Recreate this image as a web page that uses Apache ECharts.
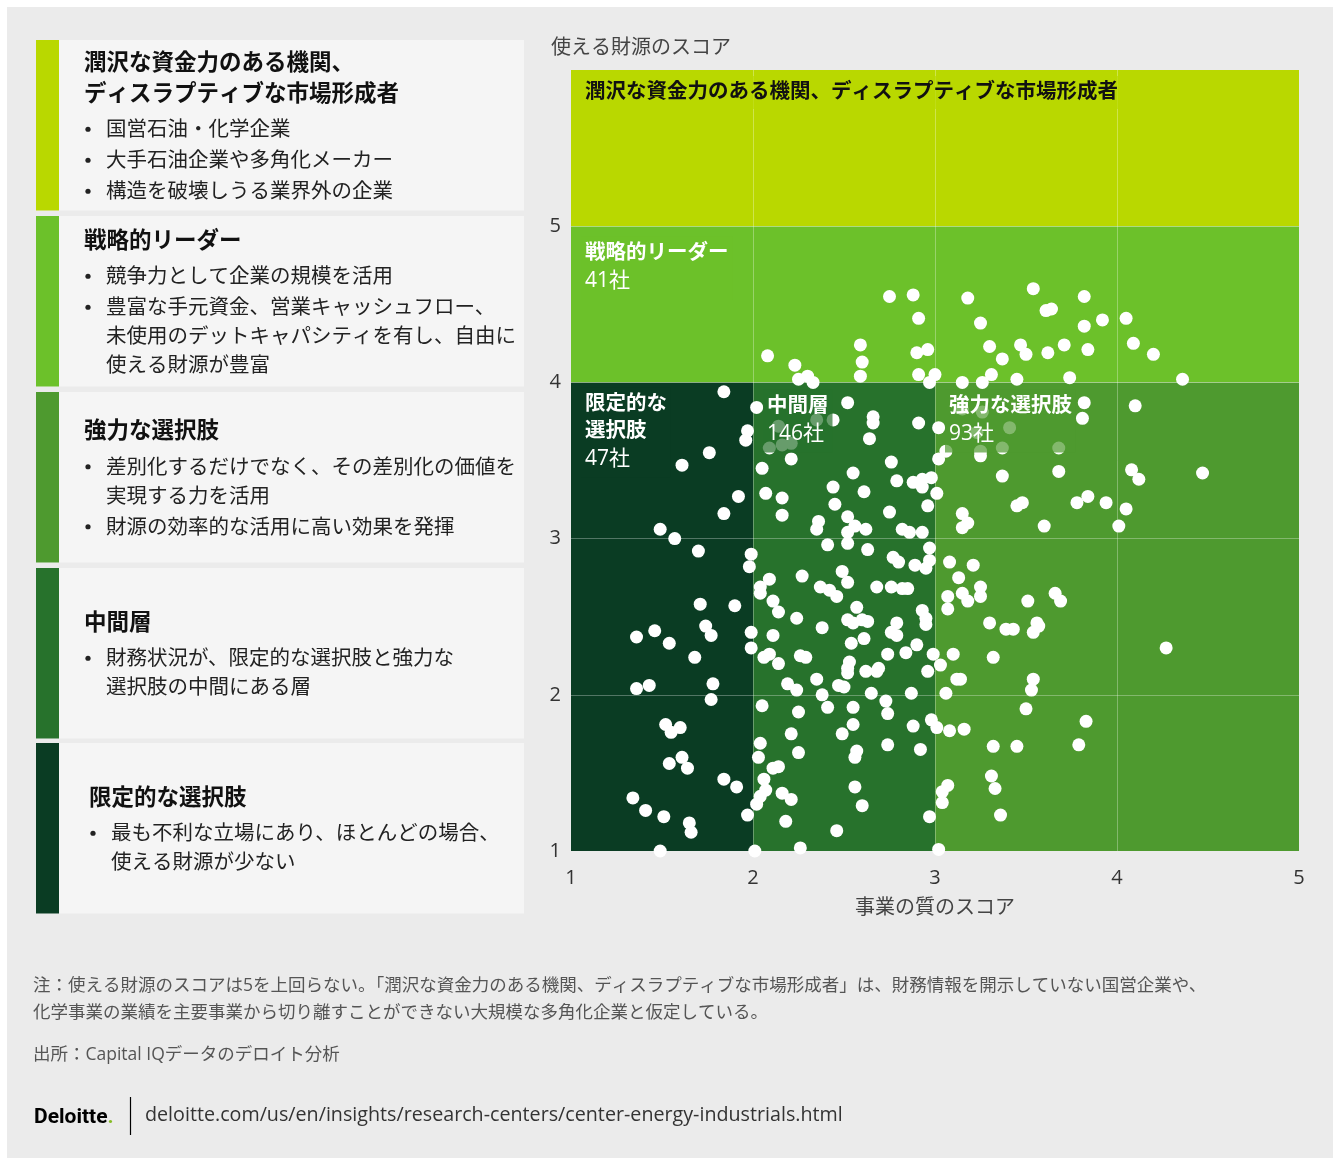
<!DOCTYPE html>
<html>
<head>
<meta charset="utf-8">
<script src="https://cdn.jsdelivr.net/npm/echarts@6/dist/echarts.min.js"></script>
<style>
  html, body { margin: 0; padding: 0; background: #ffffff; }
  #panel { position: absolute; left: 7px; top: 7px; width: 1326px; height: 1151px; background: #ebebeb; }
  #chart { position: absolute; left: 0; top: 0; width: 1340px; height: 1159px; }
</style>
</head>
<body>
<div id="panel"></div>
<div id="chart"></div>
<script>
// ---- Segments: names, company counts and score bounds [xMin, xMax, yMin, yMax] ----
const segmentLabelLines = [
  ['潤沢な資金力のある機関、ディスラプティブな市場形成者'],
  ['戦略的リーダー'],
  ['限定的な', '選択肢'],
  ['中間層'],
  ['強力な選択肢']
];
const segmentCounts = [null, 41, 47, 146, 93];
const segmentBounds = [
  [1, 5, 5, 6],
  [1, 5, 4, 5],
  [1, 2, 1, 4],
  [2, 3, 1, 4],
  [3, 5, 1, 4]
];

// ---- Axis ticks ----
const xTicks = [1, 2, 3, 4, 5];
const yTicks = [1, 2, 3, 4, 5];

// ---- Companies: [事業の質のスコア, 使える財源のスコア] ----
const leaders = [
  [2.08,4.17],[2.23,4.11],[2.25,4.02],[2.30,4.04],[2.33,4.00],[2.59,4.24],[2.60,4.13],[2.59,4.04],[2.75,4.55],[2.88,4.56],
  [2.91,4.41],[2.90,4.19],[2.96,4.21],[2.91,4.05],[3.00,4.05],[2.97,4.00],[3.18,4.54],[3.25,4.38],[3.30,4.23],[3.37,4.15],
  [3.31,4.05],[3.15,4.00],[3.26,4.00],[3.45,4.02],[3.47,4.24],[3.50,4.18],[3.54,4.60],[3.61,4.46],[3.64,4.47],[3.62,4.19],
  [3.71,4.24],[3.74,4.03],[3.82,4.55],[3.82,4.36],[3.84,4.21],[3.92,4.40],[4.05,4.41],[4.09,4.25],[4.20,4.18],[4.36,4.02]
];
const limited = [
  [1.84,3.94],[1.76,3.55],[1.61,3.47],[1.97,3.69],[1.96,3.63],[1.92,3.27],[1.84,3.16],[1.49,3.06],[1.57,3.00],[1.70,2.92],
  [1.99,2.90],[1.98,2.82],[1.71,2.58],[1.90,2.57],[1.36,2.37],[1.46,2.41],[1.54,2.33],[1.74,2.44],[1.77,2.38],[1.68,2.24],
  [1.99,2.40],[1.99,2.30],[1.36,2.04],[1.43,2.06],[1.78,2.07],[1.77,1.97],[1.52,1.81],[1.55,1.76],[1.60,1.79],[1.61,1.60],
  [1.54,1.56],[1.64,1.53],[1.84,1.46],[1.91,1.41],[1.34,1.34],[1.41,1.26],[1.51,1.22],[1.65,1.18],[1.66,1.12],[1.97,1.23],
  [1.49,1.00]
];
const middle = [
  [2.02,3.84],[2.09,3.58],[2.16,3.60],[2.21,3.61],[2.21,3.51],[2.05,3.45],[2.52,3.87],[2.66,3.78],[2.66,3.74],[2.64,3.64],
  [2.91,3.74],[2.76,3.49],[2.55,3.42],[2.79,3.37],[2.88,3.36],[2.93,3.38],[2.98,3.39],[2.93,3.33],[2.44,3.33],[2.61,3.30],
  [2.07,3.29],[2.16,3.26],[2.45,3.22],[2.96,3.21],[2.16,3.15],[2.52,3.14],[2.75,3.17],[2.36,3.11],[2.35,3.06],[2.56,3.08],
  [2.62,3.06],[2.52,3.04],[2.82,3.06],[2.86,3.04],[2.93,3.04],[2.41,2.96],[2.14,3.72],[2.35,3.76],[2.44,3.76],[2.52,2.97],
  [2.63,2.93],[2.77,2.88],[2.80,2.85],[2.89,2.83],[2.95,2.81],[2.97,2.94],[2.97,2.86],[2.09,2.74],[2.04,2.69],[2.04,2.65],
  [2.27,2.76],[2.49,2.79],[2.52,2.72],[2.37,2.69],[2.42,2.67],[2.46,2.63],[2.68,2.69],[2.76,2.69],[2.82,2.68],[2.85,2.68],
  [2.11,2.60],[2.14,2.53],[2.24,2.49],[2.57,2.56],[2.52,2.48],[2.55,2.46],[2.60,2.48],[2.63,2.47],[2.38,2.43],[2.79,2.46],
  [2.76,2.40],[2.79,2.38],[2.93,2.54],[2.95,2.49],[2.95,2.45],[2.11,2.38],[2.54,2.33],[2.61,2.36],[2.90,2.32],[2.84,2.27],
  [2.74,2.26],[2.06,2.24],[2.09,2.26],[2.14,2.20],[2.26,2.25],[2.29,2.24],[2.53,2.21],[2.52,2.17],[2.52,2.14],[2.62,2.15],
  [2.69,2.17],[2.68,2.15],[2.96,2.15],[2.99,2.26],[2.35,2.10],[2.19,2.07],[2.24,2.03],[2.47,2.06],[2.50,2.05],[2.38,2.00],
  [2.65,2.01],[2.73,1.96],[2.87,2.01],[2.05,1.93],[2.25,1.89],[2.41,1.92],[2.55,1.92],[2.74,1.88],[2.55,1.81],[2.49,1.75],
  [2.21,1.75],[2.88,1.80],[2.98,1.84],[2.04,1.69],[2.03,1.60],[2.25,1.63],[2.57,1.64],[2.56,1.60],[2.74,1.68],[2.92,1.65],
  [2.11,1.53],[2.14,1.54],[2.06,1.46],[2.07,1.39],[2.04,1.35],[2.02,1.30],[2.16,1.37],[2.21,1.33],[2.56,1.41],[2.60,1.29],
  [2.18,1.19],[2.46,1.13],[2.97,1.22],[2.01,1.00],[2.26,1.02]
];
const strong = [
  [3.82,3.87],[3.81,3.77],[4.10,3.85],[3.15,3.83],[3.26,3.81],[3.41,3.71],[3.23,3.68],[3.02,3.71],[3.06,3.56],[3.02,3.51],
  [3.25,3.56],[3.25,3.53],[3.37,3.58],[3.68,3.58],[3.37,3.40],[3.68,3.43],[4.08,3.44],[4.12,3.38],[4.47,3.42],[3.01,3.29],
  [3.45,3.21],[3.48,3.23],[3.78,3.23],[3.84,3.27],[3.94,3.23],[4.05,3.19],[3.15,3.16],[3.18,3.10],[3.15,3.07],[3.60,3.08],
  [4.01,3.08],[3.08,2.85],[3.21,2.83],[3.13,2.75],[3.07,2.63],[3.15,2.65],[3.18,2.60],[3.25,2.69],[3.25,2.63],[3.07,2.55],
  [3.51,2.60],[3.66,2.65],[3.69,2.60],[3.30,2.46],[3.39,2.42],[3.43,2.42],[3.56,2.46],[3.57,2.44],[3.54,2.40],[3.10,2.26],
  [3.03,2.19],[3.32,2.24],[3.12,2.10],[3.14,2.10],[3.54,2.10],[3.53,2.03],[3.06,2.01],[4.27,2.30],[3.50,1.91],[3.08,1.77],
  [3.16,1.78],[3.32,1.67],[3.45,1.67],[3.83,1.83],[3.79,1.68],[3.31,1.48],[3.33,1.40],[3.07,1.42],[3.04,1.38],[3.04,1.31],
  [3.36,1.23],[3.02,1.01],[3.01,1.79]
];

// ---- Side panel text (top to bottom) ----
const panelTitles = [
  ['潤沢な資金力のある機関、', 'ディスラプティブな市場形成者'],
  ['戦略的リーダー'],
  ['強力な選択肢'],
  ['中間層'],
  ['限定的な選択肢']
];
const panelBullets = [
  [['国営石油・化学企業'], ['大手石油企業や多角化メーカー'], ['構造を破壊しうる業界外の企業']],
  [['競争力として企業の規模を活用'], ['豊富な手元資金、営業キャッシュフロー、', '未使用のデットキャパシティを有し、自由に', '使える財源が豊富']],
  [['差別化するだけでなく、その差別化の価値を', '実現する力を活用'], ['財源の効率的な活用に高い効果を発揮']],
  [['財務状況が、限定的な選択肢と強力な', '選択肢の中間にある層']],
  [['最も不利な立場にあり、ほとんどの場合、', '使える財源が少ない']]
];

// ---- Axis names and footer text ----
const yAxisTitle = '使える財源のスコア';
const xAxisTitle = '事業の質のスコア';
const noteLines = [
  '注：使える財源のスコアは5を上回らない。「潤沢な資金力のある機関、ディスラプティブな市場形成者」は、財務情報を開示していない国営企業や、',
  '化学事業の業績を主要事業から切り離すことができない大規模な多角化企業と仮定している。'
];
const sourceText = '出所：Capital IQデータのデロイト分析';
const brandText = 'Deloitte';
const linkText = 'deloitte.com/us/en/insights/research-centers/center-energy-industrials.html';

// ---- Styling ----
const FONT = "'Open Sans', 'Noto Sans CJK JP', sans-serif";
const segmentColors = ['#b9d800', '#6cc12a', '#0a3c23', '#27722c', '#4e9a2f'];
const panelColors = ['#b9d800', '#6cc12a', '#4e9a2f', '#27722c', '#0a3c23'];
const labelOffsets = [[10, 6], [10, 10], [10, 5], [10, 7], [10, 7]];

function withAlpha(hex, a) {
  const n = parseInt(hex.slice(1), 16);
  return 'rgba(' + (n >> 16) + ',' + ((n >> 8) & 255) + ',' + (n & 255) + ',' + a + ')';
}

// ---- Side panel and footer drawn as graphic elements ----
const graphics = [];
// middle-aligned canvas text sits a little high for CJK glyphs; nudge it down
const TEXT_NUDGE = 2.5;
function addText(x, y, text, font, fill) {
  graphics.push({
    type: 'text', x: x, y: y + TEXT_NUDGE, silent: true,
    style: { text: text, font: font, fill: fill, align: 'left', verticalAlign: 'middle' }
  });
}

const panelTops = [40, 216, 392, 568, 743];
const panelH = 170.5;
panelTitles.forEach(function (titleLines, i) {
  const top = panelTops[i];
  graphics.push({ type: 'rect', silent: true, shape: { x: 36, y: top, width: 488, height: panelH }, style: { fill: '#f5f5f5' } });
  graphics.push({ type: 'rect', silent: true, shape: { x: 36, y: top, width: 23, height: panelH }, style: { fill: panelColors[i] } });

  const rows = [];
  let off = 0;
  titleLines.forEach(function (t, k) {
    if (k) off += 31;
    rows.push({ t: t, kind: 'title', off: off });
  });
  panelBullets[i].forEach(function (lines) {
    lines.forEach(function (t, k) {
      if (k === 0) off += rows[rows.length - 1].kind === 'title' ? 36 : 31;
      else off += 29;
      rows.push({ t: t, kind: k === 0 ? 'bullet' : 'wrap', off: off });
    });
  });
  const start = top + panelH / 2 - off / 2;
  const dx = i === 4 ? 5 : 0;
  rows.forEach(function (r) {
    const y = start + r.off;
    if (r.kind === 'title') {
      addText(84 + dx, y, r.t, 'bold 22.5px ' + FONT, '#111111');
    } else {
      if (r.kind === 'bullet') {
        graphics.push({ type: 'circle', silent: true, shape: { cx: 88 + dx, cy: y + 1.5, r: 2.6 }, style: { fill: '#222222' } });
      }
      addText(106 + dx, y, r.t, '20.5px ' + FONT, '#222222');
    }
  });
});

addText(551, 46, yAxisTitle, '20px ' + FONT, '#444444');
addText(33, 984, noteLines[0], '17.5px ' + FONT, '#555555');
addText(33, 1011, noteLines[1], '17.5px ' + FONT, '#555555');
addText(33, 1053, sourceText, '17.5px ' + FONT, '#555555');
graphics.push({
  type: 'text', x: 34, y: 1118, silent: true,
  style: {
    text: '{a|' + brandText + '}{b|.}', verticalAlign: 'middle', align: 'left',
    rich: {
      a: { font: 'bold 21px Roboto, ' + FONT, fill: '#000000' },
      b: { font: 'bold 21px Roboto, ' + FONT, fill: '#86bc25' }
    }
  }
});
graphics.push({ type: 'line', silent: true, shape: { x1: 130.5, y1: 1097, x2: 130.5, y2: 1135 }, style: { stroke: '#000000', lineWidth: 1.2 } });
addText(145, 1113, linkText, '19.7px ' + FONT, '#333333');

// ---- Segment fills and labels ----
const fillAreas = segmentBounds.map(function (b, i) {
  return [
    { coord: [b[0], b[3]], itemStyle: { color: segmentColors[i] } },
    { coord: [b[1], b[2]] }
  ];
});

const labelAreas = segmentBounds.map(function (b, i) {
  const lines = segmentLabelLines[i];
  const dark = i === 0;
  let text = lines.map(function (l) { return '{t|' + l + '}'; }).join('\n');
  if (segmentCounts[i] !== null) text += '\n{n|' + segmentCounts[i] + '社}';
  return [
    {
      coord: [b[0], b[3]],
      itemStyle: { color: 'rgba(0,0,0,0)' },
      label: {
        show: true,
        position: labelOffsets[i],
        padding: [3, 4, 3, 4],
        backgroundColor: withAlpha(segmentColors[i], 0.7),
        formatter: function () { return text; },
        rich: {
          t: { fontSize: 20.5, fontWeight: 'bold', fontFamily: FONT, color: dark ? '#111111' : '#ffffff', lineHeight: 27 },
          n: { fontSize: 21, fontWeight: 'normal', fontFamily: FONT, color: '#ffffff', lineHeight: 30 }
        }
      }
    },
    { coord: [b[1], b[2]] }
  ];
});

const gridLines = xTicks.slice(1, -1).map(function (v) { return { xAxis: v }; })
  .concat(yTicks.slice(1).map(function (v) { return { yAxis: v }; }));

const chart = echarts.init(document.getElementById('chart'), null, { renderer: 'canvas' });
chart.setOption({
  animation: false,
  backgroundColor: 'transparent',
  graphic: { elements: graphics },
  grid: { left: 571, right: 41, top: 70, bottom: 308, containLabel: false, outerBoundsMode: 'none' },
  xAxis: {
    type: 'value', min: 1, max: 5, interval: 1,
    axisLine: { show: false }, axisTick: { show: false }, splitLine: { show: false },
    axisLabel: { color: '#333333', fontSize: 20, fontFamily: FONT, margin: 17 },
    name: xAxisTitle, nameLocation: 'middle', nameGap: 47,
    nameTextStyle: { color: '#444444', fontSize: 20, fontFamily: FONT }
  },
  yAxis: {
    type: 'value', min: 1, max: 6, interval: 1,
    axisLine: { show: false }, axisTick: { show: false }, splitLine: { show: false },
    axisLabel: {
      color: '#333333', fontSize: 20, fontFamily: FONT, margin: 10,
      formatter: function (v) { return yTicks.indexOf(v) >= 0 ? String(v) : ''; }
    }
  },
  series: [
    {
      type: 'scatter',
      z: 2,
      silent: true,
      symbol: 'circle',
      symbolSize: 13,
      itemStyle: { color: '#ffffff', opacity: 1 },
      emphasis: { disabled: true },
      data: leaders.concat(limited, middle, strong),
      markArea: { silent: true, z: 1, itemStyle: { borderWidth: 0 }, label: { show: false }, data: fillAreas },
      markLine: {
        silent: true, z: 1.5, symbol: ['none', 'none'], label: { show: false },
        lineStyle: { color: 'rgba(255,255,255,0.3)', width: 1, type: 'solid' },
        emphasis: { disabled: true },
        data: gridLines
      }
    },
    {
      type: 'scatter',
      z: 3,
      silent: true,
      symbolSize: 0,
      data: [],
      markArea: { silent: true, z: 3, itemStyle: { borderWidth: 0 }, data: labelAreas }
    }
  ]
});
</script>
</body>
</html>
